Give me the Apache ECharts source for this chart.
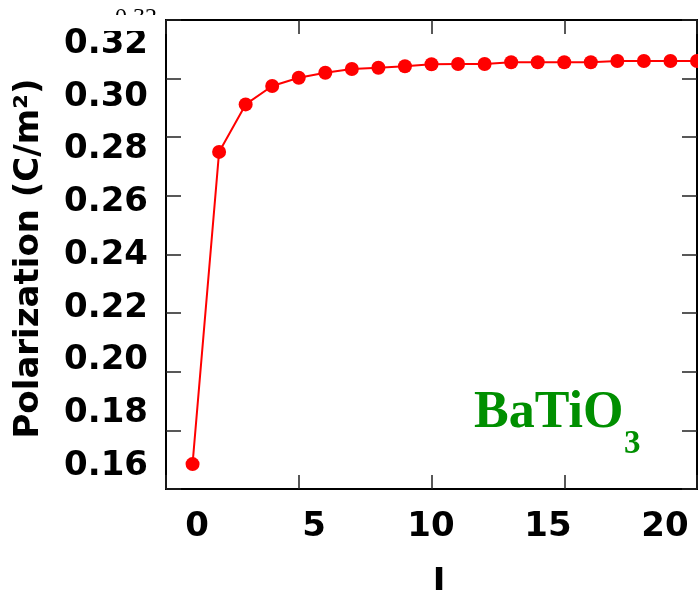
<!DOCTYPE html>
<html>
<head>
<meta charset="utf-8">
<script src="https://cdn.jsdelivr.net/npm/echarts@6/dist/echarts.min.js"></script>
<style>
html,body{margin:0;padding:0;background:#fff;}
#chart{width:698px;height:590px;}
</style>
</head>
<body>
<div id="chart"></div>
<script>
// Data (J index, polarization in C/m^2)
const J = [1, 2, 3, 4, 5, 6, 7, 8, 9, 10, 11, 12, 13, 14, 15, 16, 17, 18, 19, 20];
const P = [0.1685, 0.2750, 0.2912, 0.2975, 0.3003, 0.3020, 0.3033, 0.3037, 0.3042, 0.3049,
           0.3050, 0.3050, 0.3056, 0.3056, 0.3056, 0.3056, 0.3060, 0.3060, 0.3060, 0.3060];
// Overlaid tick labels as printed in the figure
const xTickLabels = ['0', '5', '10', '15', '20'];
const yTickLabels = ['0.16', '0.18', '0.20', '0.22', '0.24', '0.26', '0.28', '0.30', '0.32'];
const xName = 'J';
const yName = 'Polarization (C/m²)';
const material = 'BaTiO';
const materialSub = '3';
const hiddenTopLabel = '0.32';

const chart = echarts.init(document.getElementById('chart'), null, {renderer: 'canvas'});
const labelFont = 'DejaVu Sans';
const tickStyle = {color: '#222', width: 1.5};
const noBounds = {containLabel: false, outerBoundsMode: 'none'};

// grid 0: plot frame + data; grid 1: overlaid labels;
// grid 2: x ticks (top/bottom); grid 3: right y ticks; grid 4: left y ticks
const tickAxisX = (grid, pos) => ({
  gridIndex: grid, type: 'value', min: 0, max: 20, interval: 5, position: pos,
  axisLine: {show: false, onZero: false},
  axisTick: {show: true, inside: false, length: 14, lineStyle: tickStyle},
  axisLabel: {show: false}, splitLine: {show: false}
});
const tickAxisY = (grid, pos) => ({
  gridIndex: grid, type: 'value', min: 0.16, max: 0.32, interval: 0.02, position: pos,
  axisLine: {show: false, onZero: false},
  axisTick: {show: true, inside: false, length: 15, lineStyle: tickStyle},
  axisLabel: {show: false}, splitLine: {show: false}
});
const hiddenX = (grid) => ({gridIndex: grid, type: 'value', min: 0, max: 20, show: false});
const hiddenY = (grid) => ({gridIndex: grid, type: 'value', min: 0.16, max: 0.32, show: false});

const option = {
  animation: false,
  backgroundColor: '#fff',
  grid: [
    Object.assign({left: 166, right: 1, top: 20, bottom: 101, show: true, borderColor: '#000', borderWidth: 2,
     backgroundColor: 'transparent'}, noBounds),
    Object.assign({left: 197, right: 33, top: 44, bottom: 124}, noBounds),
    Object.assign({left: 166, right: 1, top: 34, bottom: 115}, noBounds),
    Object.assign({left: 300, right: 16, top: 20, bottom: 101}, noBounds),
    Object.assign({left: 60, right: 532, top: 20, bottom: 101}, noBounds)
  ],
  xAxis: [
    hiddenX(0),
    {
      gridIndex: 1, type: 'category', data: xTickLabels, boundaryGap: false,
      axisLine: {show: false}, axisTick: {show: false}, splitLine: {show: false},
      axisLabel: {interval: 0, margin: 44, fontSize: 34, fontWeight: 'bold', fontFamily: labelFont, color: '#000'},
      name: xName, nameLocation: 'middle', nameGap: 100,
      nameTextStyle: {fontSize: 34, fontWeight: 'bold', fontFamily: labelFont, color: '#000', padding: [0, 0, 0, 16]}
    },
    tickAxisX(2, 'bottom'),
    tickAxisX(2, 'top'),
    hiddenX(3),
    hiddenX(4)
  ],
  yAxis: [
    hiddenY(0),
    {
      gridIndex: 1, type: 'category', data: yTickLabels, boundaryGap: false,
      axisLine: {show: false}, axisTick: {show: false}, splitLine: {show: false},
      axisLabel: {interval: 0, margin: 49, fontSize: 34, fontWeight: 'bold', fontFamily: labelFont, color: '#000'},
      name: yName, nameLocation: 'middle', nameGap: 151, nameRotate: 90,
      nameTextStyle: {fontSize: 34, fontWeight: 'bold', fontFamily: labelFont, color: '#000', padding: [0, 7, 0, 0]}
    },
    hiddenY(2),
    tickAxisY(3, 'right'),
    tickAxisY(4, 'right')
  ],
  series: [{
    type: 'line',
    xAxisIndex: 0, yAxisIndex: 0,
    data: J.map((j, i) => [j, P[i]]),
    symbol: 'circle', symbolSize: 14,
    showAllSymbol: true,
    clip: false,
    lineStyle: {color: '#ff0000', width: 2},
    itemStyle: {color: '#ff0000'},
    z: 5
  }],
  graphic: [
    {type: 'text', left: 115, top: 6, z: 90,
     style: {text: hiddenTopLabel, fontSize: 24, fontFamily: 'Liberation Serif', fill: '#000'}},
    {type: 'rect', left: 100, top: 15, z: 91,
     shape: {width: 64, height: 16}, style: {fill: '#fff'}},
    {type: 'text', left: 474, top: 388, z: 50,
     style: {text: material, fontSize: 52, fontWeight: 'bold', fontFamily: 'Liberation Serif', fill: '#008f00'}},
    {type: 'text', left: 624, top: 428, z: 50,
     style: {text: materialSub, fontSize: 33, fontWeight: 'bold', fontFamily: 'Liberation Serif', fill: '#008f00'}}
  ]
};
chart.setOption(option);
</script>
</body>
</html>
